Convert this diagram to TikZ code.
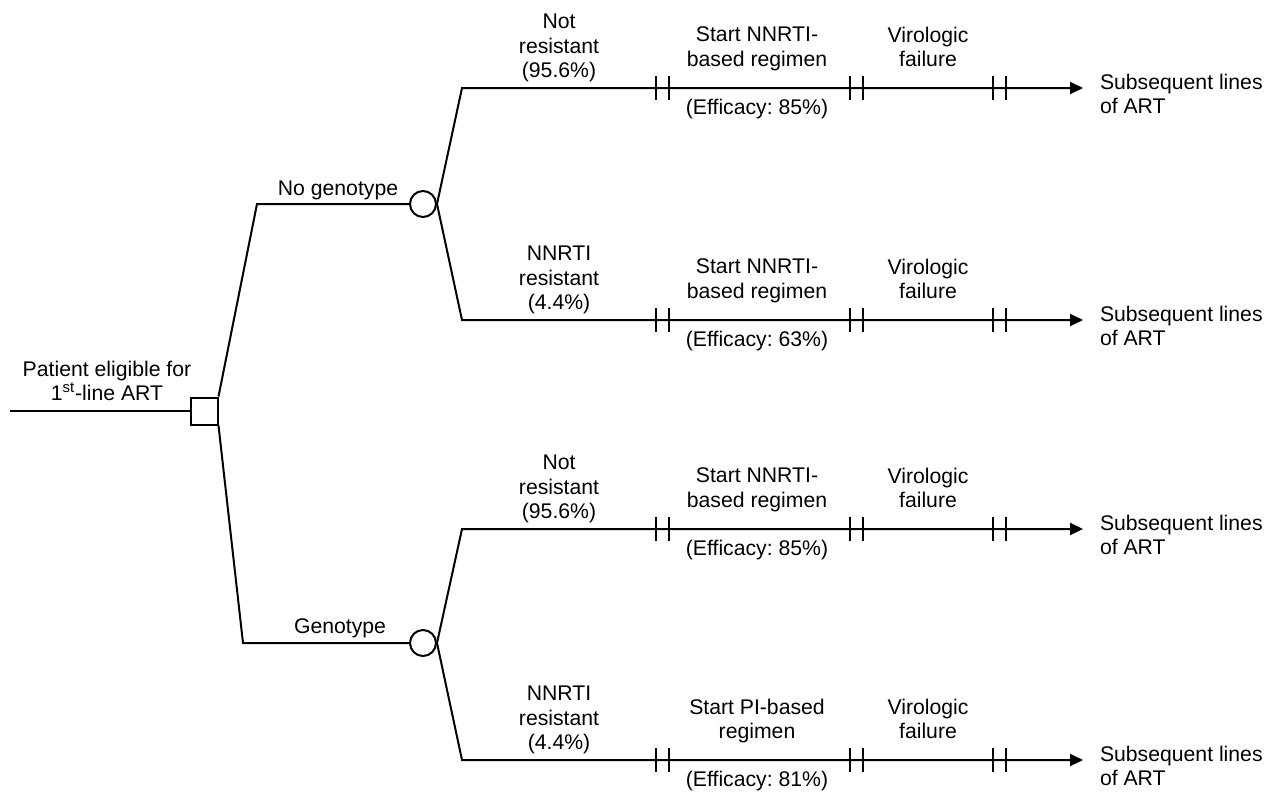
\documentclass[tikz,border=0pt]{standalone}
\usepackage{fontspec}
\setmainfont{Liberation Sans}
\usetikzlibrary{arrows.meta}
\begin{document}
\begin{tikzpicture}[x=0.5pt,y=-0.5pt,line width=1pt,
  lbl/.style={inner sep=0pt,align=center,font=\fontsize{10.6}{12.25}\selectfont\frenchspacing},
  decision/.style={draw,rectangle,minimum size=13.5pt,inner sep=0pt},
  chance/.style={draw,circle,minimum size=13pt,inner sep=0pt},
  tip/.style={-{Triangle[length=6.5pt,width=6pt]}}]
\useasboundingbox (0,0) rectangle (1273,794);
% decision and chance nodes
\coordinate (start) at (10,411);
\node[decision] (root) at (204,411) {};
\node[chance] (nog) at (423,204) {};
\node[chance] (gen) at (423,643) {};
\coordinate (k1) at (257,204);
\coordinate (k2) at (243,643);
\draw (start) -- (root);
\draw (root.north east) -- (k1) -- (nog);
\draw (root.south east) -- (k2) -- (gen);
\node[lbl,anchor=north] (pat) at (107,360) {Patient eligible for\\1\textsuperscript{st}-line ART};
\node[lbl,anchor=north] (nogl) at (338,180) {No genotype};
\node[lbl,anchor=north] (genl) at (340,618) {Genotype};
% four branches
\foreach \i/\p/\y/\lab/\reg/\eff in {
  1/nog/88/{Not\\resistant\\(95.6\%)}/{Start NNRTI-\\based regimen}/85,
  2/nog/320/{NNRTI\\resistant\\(4.4\%)}/{Start NNRTI-\\based regimen}/63,
  3/gen/529/{Not\\resistant\\(95.6\%)}/{Start NNRTI-\\based regimen}/85,
  4/gen/760/{NNRTI\\resistant\\(4.4\%)}/{Start PI-based\\regimen}/81}{
  \coordinate (b\i) at (462,\y);
  \coordinate (e\i) at (1083,\y);
  \draw[tip] (\p.east) -- (b\i) -- (e\i);
  \foreach \x in {656,669,850,863,993,1006}
    \draw (\x,\y-12) -- (\x,\y+12);
  \node[lbl,anchor=north] (lab\i) at (559,\y-75) {\lab};
  \node[lbl,anchor=north] (reg\i) at (757,\y-62) {\reg};
  \node[lbl,anchor=north] (vf\i) at (928,\y-62) {Virologic\\failure};
  \node[lbl,anchor=north] (eff\i) at (757,\y+10) {(Efficacy: \eff\%)};
  \node[lbl,anchor=north west,align=left] (sub\i) at (1099,\y-15) {Subsequent lines\\of ART};
}
\end{tikzpicture}
\end{document}
